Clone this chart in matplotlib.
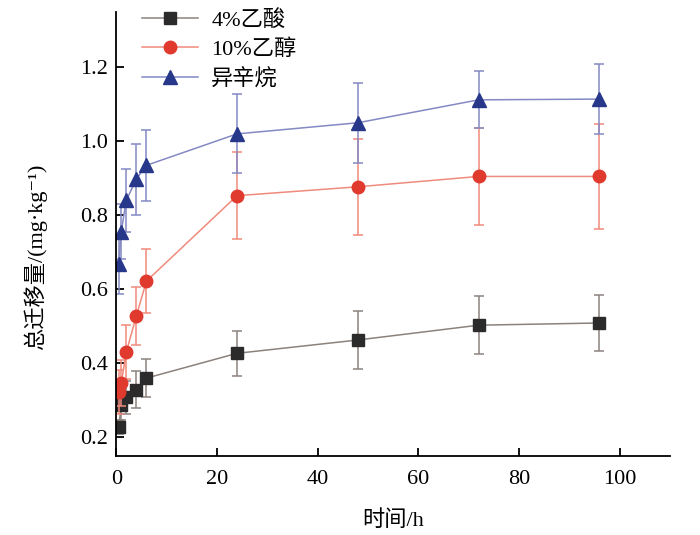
import matplotlib
matplotlib.use("Agg")
import matplotlib.pyplot as plt

plt.rcParams['font.family'] = ['Liberation Serif', 'Noto Sans CJK SC', 'DejaVu Sans']

# sampling times (h)
time_h = [0.5, 1, 2, 4, 6, 24, 48, 72, 96]

# total migration (mg/kg) and error
acid_mean = [0.228, 0.286, 0.308, 0.328, 0.360, 0.427, 0.463, 0.503, 0.509]
acid_err = [0.02, 0.04, 0.045, 0.05, 0.051, 0.06, 0.079, 0.078, 0.075]
ethanol_mean = [0.322, 0.346, 0.430, 0.528, 0.622, 0.853, 0.877, 0.905, 0.905]
ethanol_err = [0.06, 0.062, 0.073, 0.079, 0.087, 0.117, 0.13, 0.13, 0.143]
octane_mean = [0.668, 0.756, 0.840, 0.898, 0.935, 1.020, 1.050, 1.112, 1.114]
octane_err = [0.08, 0.075, 0.085, 0.096, 0.096, 0.107, 0.108, 0.077, 0.095]

series_names = ["4%乙酸", "10%乙醇", "异辛烷"]

fig = plt.figure(figsize=(7.0, 5.35), dpi=100)
ax = fig.add_axes([0.166, 0.148, 0.791, 0.830])

styles = [
    (acid_mean, acid_err, "s", "#2b2b2b", "#8c827d", 8),
    (ethanol_mean, ethanol_err, "o", "#e03a2f", "#f08a7c", 9),
    (octane_mean, octane_err, "^", "#27378a", "#8489c4", 9.5),
]
for (m, e, mk, mc, lc, ms), name in zip(styles, series_names):
    ax.errorbar(time_h, m, yerr=e, fmt="none", ecolor=lc, elinewidth=1.1,
                capsize=3.5, capthick=1.1)
    ax.plot(time_h, m, "-", color=lc, lw=1.1, marker=mk, markersize=ms,
            markerfacecolor=mc, markeredgecolor=mc, label=name)

ax.set_xlim(0, 110)
ax.set_ylim(0.15, 1.35)
ax.set_xticks([0, 20, 40, 60, 80, 100])
ax.set_yticks([0.2, 0.4, 0.6, 0.8, 1.0, 1.2])
ax.set_yticklabels(["0.2", "0.4", "0.6", "0.8", "1.0", "1.2"])
for s in ("top", "right"):
    ax.spines[s].set_visible(False)
for s in ("left", "bottom"):
    ax.spines[s].set_linewidth(1.3)
ax.tick_params(direction="in", length=6, width=1.3, labelsize=16, pad=6)
ax.tick_params(axis="x", pad=10)

ax.set_xlabel("时间/h", fontsize=16)
ax.xaxis.set_label_coords(0.5, -0.122)
ax.set_ylabel("总迁移量/(mg·kg⁻¹)", fontsize=16)
ax.yaxis.set_label_coords(-0.124, 0.448)

ax.legend(loc="upper left", bbox_to_anchor=(0.011, 1.05), frameon=False,
          fontsize=16, handlelength=2.5, handletextpad=0.6,
          labelspacing=0.4)

fig.savefig("out.png", dpi=100)
